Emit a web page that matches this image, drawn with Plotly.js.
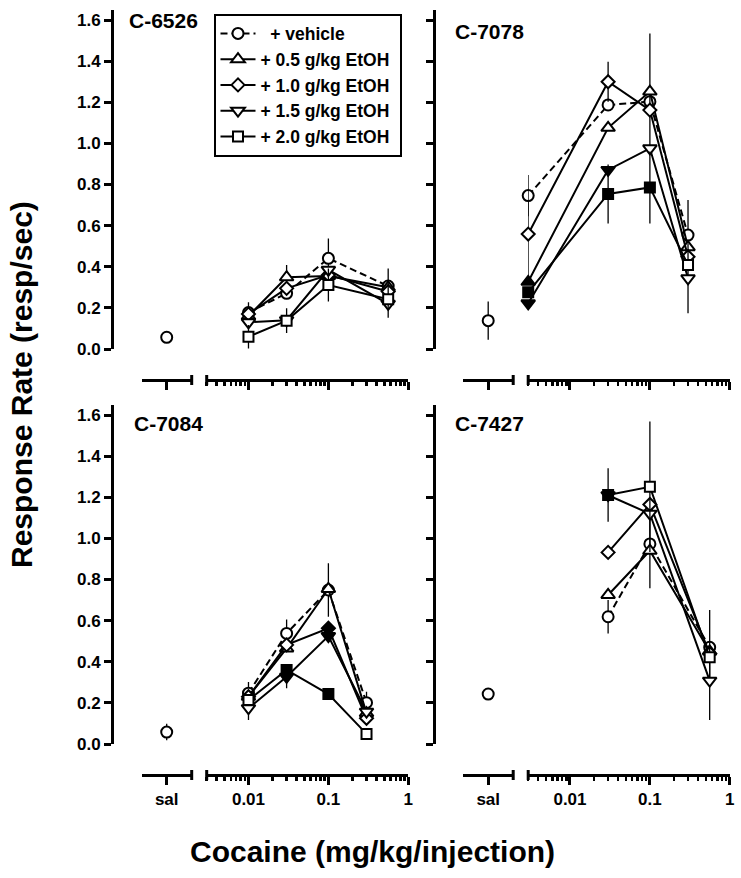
<!DOCTYPE html>
<html>
<head>
<meta charset="utf-8">
<script src="https://cdn.plot.ly/plotly-3.0.1.min.js"></script>
<style>html,body{margin:0;padding:0;background:#fff;}#chart{width:741px;height:878px;}</style>
</head>
<body>
<div id="chart"></div>
<script>
// ---------- DATA ----------
const seriesNames = ['\u00a0\u00a0+ vehicle', '+ 0.5 g/kg EtOH\u00a0', '+ 1.0 g/kg EtOH\u00a0', '+ 1.5 g/kg EtOH\u00a0', '+ 2.0 g/kg EtOH\u00a0'];
const panelLabels = ['C-6526', 'C-7078', 'C-7084', 'C-7427'];
const yTickVals = [0, 0.2, 0.4, 0.6, 0.8, 1.0, 1.2, 1.4, 1.6];
const logTickVals = [0.01, 0.1, 1];
const logTickText = ['0.01', '0.1', '1'];
const logMinorTicks = [0.003, 0.004, 0.005, 0.006, 0.007, 0.008, 0.009,
                       0.02, 0.03, 0.04, 0.05, 0.06, 0.07, 0.08, 0.09,
                       0.2, 0.3, 0.4, 0.5, 0.6, 0.7, 0.8, 0.9];
const salTickText = ['sal'];

// C-6526
const c6526Doses = [0.01, 0.03, 0.1, 0.56];
const c6526Sal = [0.057];
const c6526SalErr = [0];
const c6526Veh = [0.177, 0.271, 0.441, 0.306];
const c6526VehErr = [0.05, 0, 0.097, 0.085];
const c6526E05 = [0.16, 0.349, 0.355, 0.30];
const c6526E05Err = [0, 0.06, 0, 0];
const c6526E10 = [0.17, 0.295, 0.36, 0.28];
const c6526E10Err = [0, 0, 0, 0];
const c6526E15 = [0.13, 0.14, 0.385, 0.22];
const c6526E15Err = [0, 0, 0, 0];
const c6526E20 = [0.06, 0.138, 0.311, 0.242];
const c6526E20Err = [0.057, 0.06, 0.08, 0.09];
const c6526Filled = [[0,0,0,0],[0,0,0,0],[0,0,0,0],[0,0,0,0],[0,0,0,0]];

// C-7078
const c7078Doses = [0.003, 0.03, 0.1, 0.3];
const c7078Sal = [0.138];
const c7078SalErr = [0.093];
const c7078Veh = [0.746, 1.187, 1.203, 0.554];
const c7078VehErr = [0.10, 0, 0, 0.171];
const c7078E05 = [0.327, 1.076, 1.252, 0.495];
const c7078E05Err = [0, 0, 0.283, 0];
const c7078E10 = [0.559, 1.300, 1.162, 0.449];
const c7078E10Err = [0.22, 0.097, 0, 0];
const c7078E15 = [0.222, 0.871, 0.976, 0.344];
const c7078E15Err = [0, 0, 0, 0.17];
const c7078E20 = [0.276, 0.754, 0.786, 0.409];
const c7078E20Err = [0, 0.143, 0.175, 0];
const c7078Filled = [[0,0,0,0],[1,0,0,0],[0,0,0,0],[1,1,0,0],[1,1,1,0]];

// C-7084
const c7084Doses = [0.01, 0.03, 0.1, 0.3];
const c7084Sal = [0.058];
const c7084SalErr = [0.04];
const c7084Veh = [0.247, 0.538, 0.749, 0.201];
const c7084VehErr = [0.055, 0.068, 0.13, 0.053];
const c7084E05 = [0.23, 0.465, 0.754, 0.15];
const c7084E05Err = [0, 0, 0, 0];
const c7084E10 = [0.23, 0.482, 0.563, 0.125];
const c7084E10Err = [0, 0, 0, 0];
const c7084E15 = [0.174, 0.327, 0.525, 0.157];
const c7084E15Err = [0.057, 0.056, 0, 0];
const c7084E20 = [0.214, 0.36, 0.243, 0.049];
const c7084E20Err = [0, 0, 0, 0];
const c7084Filled = [[0,0,0,0],[0,0,0,0],[0,0,1,0],[0,1,1,0],[0,1,1,0]];

// C-7427
const c7427Doses = [0.03, 0.1, 0.56];
const c7427Sal = [0.243];
const c7427SalErr = [0];
const c7427Veh = [0.619, 0.973, 0.470];
const c7427VehErr = [0.081, 0, 0.182];
const c7427E05 = [0.725, 0.94, 0.45];
const c7427E05Err = [0, 0.183, 0];
const c7427E10 = [0.932, 1.165, 0.44];
const c7427E10Err = [0, 0, 0];
const c7427E15 = [1.21, 1.12, 0.308];
const c7427E15Err = [0, 0, 0.191];
const c7427E20 = [1.211, 1.251, 0.422];
const c7427E20Err = [0.13, 0.317, 0];
const c7427Filled = [[0,0,0],[0,0,0],[0,0,0],[1,0,0],[1,0,0]];

// ---------- ASSEMBLY ----------
const panels = [
  {doses: c6526Doses, sal: c6526Sal, salErr: c6526SalErr,
   vals: [c6526Veh, c6526E05, c6526E10, c6526E15, c6526E20],
   errs: [c6526VehErr, c6526E05Err, c6526E10Err, c6526E15Err, c6526E20Err], filled: c6526Filled},
  {doses: c7078Doses, sal: c7078Sal, salErr: c7078SalErr,
   vals: [c7078Veh, c7078E05, c7078E10, c7078E15, c7078E20],
   errs: [c7078VehErr, c7078E05Err, c7078E10Err, c7078E15Err, c7078E20Err], filled: c7078Filled},
  {doses: c7084Doses, sal: c7084Sal, salErr: c7084SalErr,
   vals: [c7084Veh, c7084E05, c7084E10, c7084E15, c7084E20],
   errs: [c7084VehErr, c7084E05Err, c7084E10Err, c7084E15Err, c7084E20Err], filled: c7084Filled},
  {doses: c7427Doses, sal: c7427Sal, salErr: c7427SalErr,
   vals: [c7427Veh, c7427E05, c7427E10, c7427E15, c7427E20],
   errs: [c7427VehErr, c7427E05Err, c7427E10Err, c7427E15Err, c7427E20Err], filled: c7427Filled}
];

// ---------- STYLE / GEOMETRY ----------
const W = 741, H = 878;
const FONT = 'Arial, "Liberation Sans", sans-serif';
const px = v => v / W;
const py = v => 1 - v / H;
const symbols = ['circle', 'triangle-up', 'diamond', 'triangle-down', 'square'];
const msizes = [11, 12, 10, 12, 10];
const colOffset = [0, 321.5];
const rowZero = [349, 744];        // pixel of y = 0
const rowAxisY = [380, 775];       // pixel of x axis line
const unitPx = 205.6;              // pixels per 1.0 response rate
const yMax = 1.65;

const layout = {
  width: W, height: H,
  margin: {l: 0, r: 0, t: 0, b: 0},
  paper_bgcolor: '#fff', plot_bgcolor: 'rgba(0,0,0,0)',
  showlegend: true,
  font: {family: FONT, color: '#000', size: 17, weight: 'bold'},
  legend: {
    x: px(213.5), y: py(13.5), xanchor: 'left', yanchor: 'top',
    bgcolor: '#fff', bordercolor: '#000', borderwidth: 2,
    font: {family: FONT, size: 17.5, color: '#000', weight: 'bold'},
    tracegroupgap: 0, itemwidth: 35
  },
  shapes: [], annotations: []
};

const traces = [];
panels.forEach((p, i) => {
  const col = i % 2, row = Math.floor(i / 2);
  const off = colOffset[col];
  const zeroPx = rowZero[row];
  const topPx = zeroPx - yMax * unitPx;
  const nSal = 2 * i + 1, nLog = 2 * i + 2, nY = i + 1;
  const xs = 'xaxis' + (nSal === 1 ? '' : nSal), xl = 'xaxis' + nLog, ya = 'yaxis' + (nY === 1 ? '' : nY);
  const bottom = row === 1;
  const axisCommon = {
    showline: true, linecolor: '#000', linewidth: 3, mirror: false,
    ticks: 'outside', tickcolor: '#000', tickwidth: 3, ticklen: 8,
    showgrid: false, zeroline: false, fixedrange: true,
    anchor: 'free', position: py(rowAxisY[row]),
    tickfont: {family: FONT, size: 17, color: '#000', weight: 'bold'}
  };
  layout[xs] = Object.assign({}, axisCommon, {
    domain: [px(141.7 + off), px(191.7 + off)], range: [-1, 1],
    tickmode: 'array', tickvals: [0], ticktext: salTickText, showticklabels: bottom
  });
  layout[xl] = Object.assign({}, axisCommon, {
    domain: [px(206.7 + off), px(408.3 + off)], type: 'log',
    range: [Math.log10(0.003), 0],
    tickmode: 'array', tickvals: logTickVals, ticktext: logTickText, showticklabels: bottom,
    minor: {tickmode: 'array', tickvals: logMinorTicks, ticks: 'outside', ticklen: 4, tickwidth: 2.5, tickcolor: '#000', showgrid: false}
  });
  layout[ya] = {
    domain: [py(zeroPx), py(topPx)], range: [0, yMax],
    anchor: 'free', position: px(112 + off),
    showline: true, linecolor: '#000', linewidth: 3,
    ticks: 'outside', tickcolor: '#000', tickwidth: 3, ticklen: 7,
    tickmode: 'array', tickvals: yTickVals, tickformat: '.1f',
    showticklabels: col === 0, showgrid: false, zeroline: false, fixedrange: true,
    tickfont: {family: FONT, size: 17, color: '#000', weight: 'bold'}
  };
  // axis break caps
  const capY0 = py(rowAxisY[row] - 5), capY1 = py(rowAxisY[row] + 5);
  layout.shapes.push({type: 'line', xref: 'x' + nSal + ' domain', x0: 1, x1: 1, yref: 'paper', y0: capY0, y1: capY1, line: {color: '#000', width: 3}});
  layout.shapes.push({type: 'line', xref: 'x' + nLog + ' domain', x0: 0, x1: 0, yref: 'paper', y0: capY0, y1: capY1, line: {color: '#000', width: 3}});
  // panel label
  layout.annotations.push({
    text: panelLabels[i], xref: 'paper', yref: 'paper', showarrow: false,
    x: px([126.7, 453.3, 131.7, 453.3][i]), y: py([20.5, 32, 424, 424][i]),
    xanchor: 'left', yanchor: 'middle',
    font: {family: FONT, size: 21, color: '#000', weight: 'bold'}
  });

  const xsRef = nSal === 1 ? 'x' : 'x' + nSal;
  const xlRef = 'x' + nLog;
  const yRef = nY === 1 ? 'y' : 'y' + nY;

  // saline (vehicle) point
  traces.push({
    type: 'scatter', mode: 'markers', x: [0], y: p.sal, xaxis: xsRef, yaxis: yRef,
    showlegend: false, cliponaxis: false, hoverinfo: 'skip',
    marker: {symbol: 'circle', size: msizes[0], color: '#fff', line: {color: '#000', width: 2}},
    error_y: {type: 'data', array: p.salErr, visible: true, color: '#000', thickness: 1.3, width: 0}
  });

  p.vals.forEach((vals, s) => {
    traces.push({
      type: 'scatter', mode: 'lines+markers', name: seriesNames[s],
      x: p.doses, y: vals, xaxis: xlRef, yaxis: yRef,
      showlegend: i === 0, legendgroup: 's' + s, cliponaxis: false, hoverinfo: 'skip',
      line: {color: '#000', width: 2, dash: s === 0 ? '7px,4px' : 'solid'},
      marker: {symbol: symbols[s], size: msizes[s],
               color: p.filled[s].map(f => f ? '#000' : '#fff'),
               line: {color: '#000', width: 2}},
      error_y: {type: 'data', array: p.errs[s], visible: true, color: '#000', thickness: 1.3, width: 0}
    });
  });
});

// overall titles
layout.annotations.push({
  text: 'Response Rate (resp/sec)', xref: 'paper', yref: 'paper', showarrow: false,
  x: px(22), y: py(385), xanchor: 'center', yanchor: 'middle', textangle: -90,
  font: {family: FONT, size: 30, color: '#000', weight: 'bold'}
});
layout.annotations.push({
  text: 'Cocaine (mg/kg/injection)', xref: 'paper', yref: 'paper', showarrow: false,
  x: px(372), y: py(851), xanchor: 'center', yanchor: 'middle',
  font: {family: FONT, size: 30, color: '#000', weight: 'bold'}
});

Plotly.newPlot('chart', traces, layout, {staticPlot: true, displayModeBar: false});
</script>
</body>
</html>
